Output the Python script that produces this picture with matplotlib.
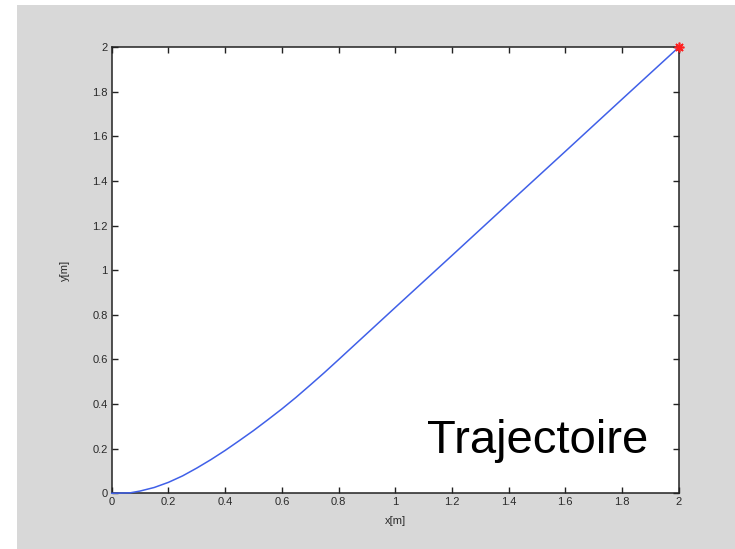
import matplotlib
matplotlib.use("Agg")
import matplotlib.pyplot as plt
from matplotlib.patches import Rectangle

# Data
x_traj = [0, 0.065, 0.1, 0.15, 0.2, 0.25, 0.3, 0.35, 0.4, 0.45, 0.5, 0.55, 0.6, 0.65, 0.7, 0.75,
          0.8, 1.0, 1.2, 1.4, 1.6, 1.8, 2.0]
y_traj = [0, 0.002, 0.010, 0.026, 0.049, 0.078, 0.113, 0.151, 0.192, 0.236, 0.281, 0.329, 0.378,
          0.430, 0.485, 0.541, 0.599, 0.833, 1.066, 1.300, 1.533, 1.767, 2.0]
end_x = [2.0]
end_y = [2.0]
ticks = [0, 0.2, 0.4, 0.6, 0.8, 1, 1.2, 1.4, 1.6, 1.8, 2]
tick_labels = ["0", "0.2", "0.4", "0.6", "0.8", "1", "1.2", "1.4", "1.6", "1.8", "2"]

plt.rcParams['font.family'] = ['Liberation Sans', 'DejaVu Sans']

fig = plt.figure(figsize=(7.35, 5.49), dpi=100)
fig.patch.set_facecolor('white')
fig.patches.append(Rectangle((17/735, 0), 1 - 17/735, 1 - 5/549, transform=fig.transFigure,
                             facecolor='#d8d8d8', edgecolor='none', zorder=-10))

ax = fig.add_axes([0.152, 0.1015, 0.7714, 0.8124])
ax.set_facecolor('white')
ax.plot(x_traj, y_traj, color='#4060e8', lw=1.1, clip_on=False, zorder=5)
ax.plot(end_x, end_y, linestyle='none', marker=(8, 2, 0), markersize=7,
        markeredgecolor='#ff2020', markeredgewidth=1.2, clip_on=False, zorder=6)

ax.set_xlim(0, 2)
ax.set_ylim(0, 2)
ax.set_xticks(ticks)
ax.set_xticklabels(tick_labels)
ax.set_yticks(ticks)
ax.set_yticklabels(tick_labels)
ax.tick_params(direction='in', length=4, width=1, top=True, right=True,
               labelsize=8, labelcolor='#2a2a2a', color='#222222', pad=3)
for s in ax.spines.values():
    s.set_color('#222222')
    s.set_linewidth(1.1)

ax.set_xlabel('x[m]', fontsize=8, color='#2a2a2a', labelpad=6)
ax.set_ylabel('y[m]', fontsize=8, color='#2a2a2a', labelpad=16)

ax.text(1.111, 0.182, 'Trajectoire', fontsize=34, ha='left', va='baseline', color='black')

fig.savefig('out.png', dpi=100, facecolor=fig.get_facecolor())
